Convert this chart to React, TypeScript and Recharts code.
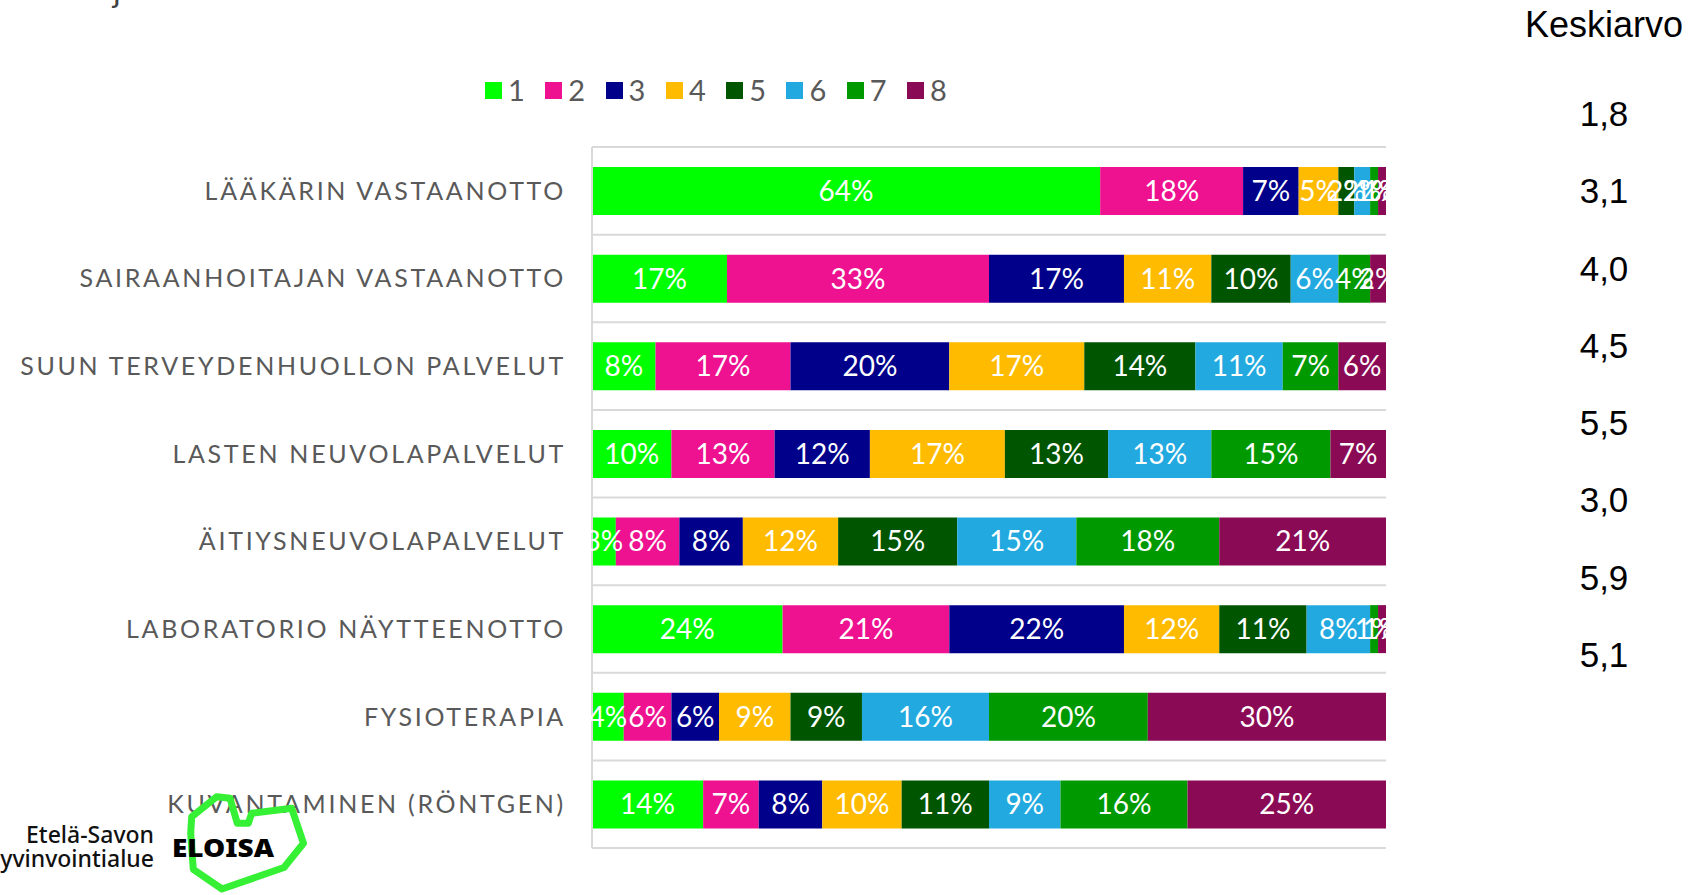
import React from 'react';
import { BarChart, Bar, XAxis, YAxis, CartesianGrid, LabelList, Legend } from 'recharts';

const categories = [
  'LÄÄKÄRIN VASTAANOTTO',
  'SAIRAANHOITAJAN VASTAANOTTO',
  'SUUN TERVEYDENHUOLLON PALVELUT',
  'LASTEN NEUVOLAPALVELUT',
  'ÄITIYSNEUVOLAPALVELUT',
  'LABORATORIO NÄYTTEENOTTO',
  'FYSIOTERAPIA',
  'KUVANTAMINEN (RÖNTGEN)',
];

const s1 = [64, 17, 8, 10, 3, 24, 4, 14];
const s2 = [18, 33, 17, 13, 8, 21, 6, 7];
const s3 = [7, 17, 20, 12, 8, 22, 6, 8];
const s4 = [5, 11, 17, 17, 12, 12, 9, 10];
const s5 = [2, 10, 14, 13, 15, 11, 9, 11];
const s6 = [2, 6, 11, 13, 15, 8, 16, 9];
const s7 = [1, 4, 7, 15, 18, 1, 20, 16];
const s8 = [1, 2, 6, 7, 21, 1, 30, 25];

const seriesNames = ['1', '2', '3', '4', '5', '6', '7', '8'];
const seriesValues = [s1, s2, s3, s4, s5, s6, s7, s8];
const seriesColors = ['#00ff00', '#ee1190', '#00008b', '#ffbb00', '#005500', '#22aae0', '#009900', '#8b0a55'];

const averages = [1.8, 3.1, 4.0, 4.5, 5.5, 3.0, 5.9, 5.1];
const averageTitle = 'Keskiarvo';

const data = categories.map((name, i) => {
  const row: Record<string, any> = { name };
  seriesValues.forEach((vals, k) => {
    row['v' + (k + 1)] = vals[i];
  });
  return row;
});

const gridTicks = categories.map((_, i) => i).concat([categories.length]);

const CatTick = (props: any) => {
  const { x, y, payload } = props;
  return (
    <text
      x={x - 26}
      y={y}
      dy={9}
      textAnchor="end"
      fill="#595959"
      fontFamily="Lato"
      fontSize={25}
      letterSpacing={2.7}
    >
      {payload.value}
    </text>
  );
};

const LegendContent = (props: any) => {
  const { payload } = props;
  return (
    <div style={{ display: 'flex', alignItems: 'center', height: 36 }}>
      {(payload || []).map((p: any) => (
        <div key={p.value} style={{ display: 'flex', alignItems: 'center', width: 60.3 }}>
          <span style={{ display: 'inline-block', width: 17, height: 17, background: p.color, marginRight: 6 }} />
          <span style={{ fontFamily: 'Lato', fontSize: 29, color: '#595959', lineHeight: '36px' }}>{p.value}</span>
        </div>
      ))}
    </div>
  );
};

const boundaryLines = ({ offset }: any) =>
  gridTicks.map((i) => offset.top + (offset.height * i) / categories.length);

export default function App() {
  return (
    <div style={{ position: 'absolute', left: 0, top: 0, width: 1689, height: 895, overflow: 'hidden', background: '#fff' }}>
      <BarChart
        width={1689}
        height={895}
        data={data}
        layout="vertical"
        margin={{ top: 147, right: 303, bottom: 47, left: 0 }}
        barSize={48}
      >
        <XAxis type="number" domain={[0, 100]} hide />
        <YAxis
          yAxisId="cat"
          type="category"
          dataKey="name"
          width={592}
          axisLine={{ stroke: '#d9d9d9', strokeWidth: 2 }}
          tickLine={false}
          tickSize={0}
          tickMargin={0}
          interval={0}
          tick={<CatTick />}
        />
        <CartesianGrid
          yAxisId="cat"
          vertical={false}
          stroke="#d9d9d9"
          strokeWidth={2}
          horizontalCoordinatesGenerator={boundaryLines}
        />
        {seriesNames.map((n, k) => (
          <Bar
            key={n}
            yAxisId="cat"
            dataKey={'v' + (k + 1)}
            name={n}
            stackId="a"
            fill={seriesColors[k]}
            isAnimationActive={false}
          >
            <LabelList
              dataKey={'v' + (k + 1)}
              position="center"
              fill="#ffffff"
              fontFamily="Lato"
              fontSize={28}
              formatter={(v: any) => v + '%'}
            />
          </Bar>
        ))}
        <Legend
          layout="horizontal"
          verticalAlign="middle"
          align="center"
          wrapperStyle={{ top: 72, left: 485, width: 'auto' }}
          content={<LegendContent />}
        />
      </BarChart>
      <svg
        width={1689}
        height={895}
        style={{ position: 'absolute', left: 0, top: 0, pointerEvents: 'none' }}
      >
        <text x={113} y={2} fontFamily="Lato" fontSize={32} fill="#404040">j</text>
        <text x={1604} y={37} textAnchor="middle" fontFamily="Liberation Sans" fontSize={36} fill="#000">
          {averageTitle}
        </text>
        {averages.map((a, i) => (
          <text
            key={i}
            x={1604}
            y={126 + i * 77.25}
            textAnchor="middle"
            fontFamily="Liberation Sans"
            fontSize={35}
            fill="#000"
          >
            {a.toFixed(1).replace('.', ',')}
          </text>
        ))}
        <text x={154} y={843} textAnchor="end" fontFamily="Noto Sans" fontWeight={500} fontSize={23} fill="#111">
          Etelä-Savon
        </text>
        <text x={154} y={867} textAnchor="end" fontFamily="Noto Sans" fontWeight={500} fontSize={23} fill="#111">
          hyvinvointialue
        </text>
        <path
          d="M191.7,816.7 L216.7,796.7 L230,798.3 L237.3,823.3 L248.3,823.3 L251.7,813.3 L291.7,808.3 L303.5,843.3 L284,867.5 L222,889 L193.3,869.3 L190.7,833.3 Z"
          fill="none"
          stroke="#35f035"
          strokeWidth={7}
          strokeLinejoin="round"
        />
        <text
          x={172}
          y={857}
          fontFamily="Noto Sans"
          fontWeight={900}
          fontSize={24}
          fill="#000"
          textLength={102}
          lengthAdjust="spacingAndGlyphs"
        >
          ELOISA
        </text>
      </svg>
    </div>
  );
}
